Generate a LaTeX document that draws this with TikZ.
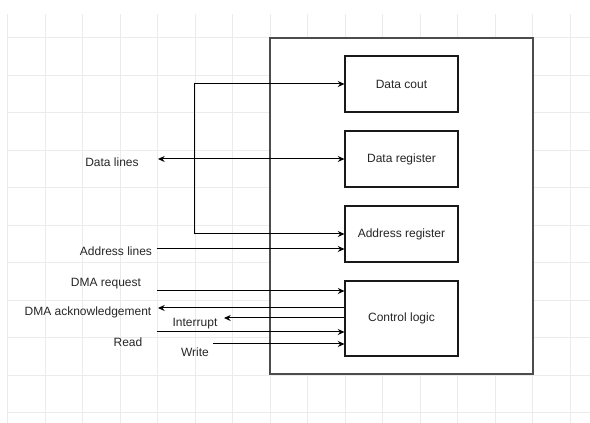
\documentclass[tikz,border=0pt]{standalone}
\usepackage{fontspec}
\setmainfont{Liberation Sans}
\usetikzlibrary{arrows.meta,positioning}
\tikzset{
 unit/.style={draw=black!90,line width=.8pt,minimum width=84.75pt,minimum height=42pt,inner sep=0pt,text=black!85},
 sig/.style={text=black!85,inner sep=0pt},
 wire/.style={line width=.75pt}
}
\begin{document}
\begin{tikzpicture}[x=.75pt,y=-.75pt,>={Stealth[length=5pt,width=4.5pt]},font=\fontsize{9}{11}\selectfont]
\useasboundingbox (0,0) rectangle (590,423);
% background grid
\foreach \x in {7.5,45,...,570}{\draw[black!8,line width=.6pt] (\x,14)--(\x,423);}
\foreach \y in {37.5,75,...,412.5}{\draw[black!8,line width=.6pt] (7.5,\y)--(590,\y);}
% interface
\node[draw=black!70,line width=.8pt,minimum width=197.25pt,minimum height=252pt,fill=white] (dev) at (401.5,206) {};
\node[unit] (datacout) at (401.5,84) {Data cout};
\node[unit] (datareg) at (401.5,159) {Data register};
\node[unit] (addrreg) at (401.5,234) {Address register};
\node[unit,minimum height=56.25pt] (ctrl) at (401.5,318.5) {Control logic};
% signal names
\node[sig] (datalines) at (112,162) {Data lines};
\node[sig] (addrlines) at (116,251) {Address lines};
\node[sig] (dmareq) at (106,284) {DMA request};
\node[sig] (dmaack) at (88,312) {DMA acknowledgement};
\node[sig] (intr) at (195,324) {Interrupt};
\node[sig] (rd) at (128,342) {Read};
\node[sig] (wr) at (195,352) {Write};
% free ends
\coordinate (dl) at (158,159);
\coordinate (al) at (157,249);
\coordinate (rq) at (157,291);
\coordinate (ak) at (158,308);
\coordinate (ir) at (224,318);
\coordinate (rdin) at (157,332);
\coordinate (wrin) at (213,344);
% connectors
\draw[wire,<->] (datacout.west) -- ++(-150,0) |- (addrreg.west);
\draw[wire,<->] (dl) -- (datareg.west);
\draw[wire,->] (al) -- (al -| addrreg.west);
\draw[wire,->] (rq) -- (rq -| ctrl.west);
\draw[wire,->] (ak -| ctrl.west) -- (ak);
\draw[wire,->] (ir -| ctrl.west) -- (ir);
\draw[wire,->] (rdin) -- (rdin -| ctrl.west);
\draw[wire,->] (wrin) -- (wrin -| ctrl.west);
\end{tikzpicture}
\end{document}
